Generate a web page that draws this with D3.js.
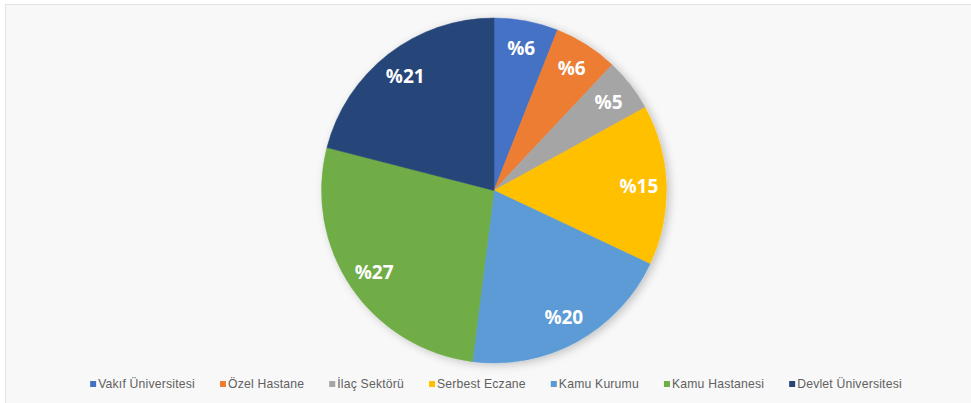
<!DOCTYPE html>
<html>
<head>
<meta charset="utf-8">
<script src="https://cdn.jsdelivr.net/npm/d3@7"></script>
<style>
  html, body { margin: 0; padding: 0; background: #ffffff; }
  svg { display: block; }
</style>
</head>
<body>
<svg id="chart" width="971" height="403"></svg>
<script>
// Share of respondents by workplace
const categories = ["Vakıf Üniversitesi", "Özel Hastane", "İlaç Sektörü", "Serbest Eczane", "Kamu Kurumu", "Kamu Hastanesi", "Devlet Üniversitesi"];
const values = [6, 6, 5, 15, 20, 27, 21];
const colors = ["#4472c4", "#ed7d31", "#a5a5a5", "#ffc000", "#5b9bd5", "#70ad47", "#264478"];

const W = 971, H = 403;
const cx = 494, cy = 190.5, R = 172.5;

const svg = d3.select("#chart");

// panel background with a thin frame
svg.append("rect")
  .attr("x", 5.5).attr("y", 4.5)
  .attr("width", W + 10).attr("height", H + 10)
  .attr("fill", "#f8f8f8")
  .attr("stroke", "#e2e2e2")
  .attr("stroke-width", 1);

const defs = svg.append("defs");
const shadow = defs.append("filter").attr("id", "pieShadow")
  .attr("x", "-20%").attr("y", "-20%").attr("width", "140%").attr("height", "140%");
shadow.append("feDropShadow")
  .attr("dx", 3).attr("dy", 2).attr("stdDeviation", 4)
  .attr("flood-color", "#000").attr("flood-opacity", 0.22);

const data = categories.map((c, i) => ({ name: c, value: values[i], color: colors[i] }));

const pie = d3.pie().value(d => d.value).sort(null);
const arcs = pie(data);
const arc = d3.arc().innerRadius(0).outerRadius(R);
const labelArc = d3.arc().innerRadius(R * 0.84).outerRadius(R * 0.84);

const g = svg.append("g").attr("transform", `translate(${cx},${cy})`);

g.append("g").attr("filter", "url(#pieShadow)")
  .selectAll("path")
  .data(arcs)
  .join("path")
  .attr("d", arc)
  .attr("fill", d => d.data.color)
  .attr("stroke", d => d.data.color)
  .attr("stroke-width", 0.5);

g.selectAll("text.lbl")
  .data(arcs)
  .join("text")
  .attr("class", "lbl")
  .attr("transform", d => `translate(${labelArc.centroid(d)})`)
  .attr("text-anchor", "middle")
  .attr("dominant-baseline", "central")
  .attr("fill", "#ffffff")
  .attr("font-family", "'Open Sans', 'Noto Sans', sans-serif")
  .attr("font-weight", 700)
  .attr("font-size", 19)
  .text(d => "%" + d.data.value);

// legend, centred below the pie
const legend = svg.append("g");
const items = legend.selectAll("g.item")
  .data(data)
  .join("g")
  .attr("class", "item");

items.append("rect")
  .attr("width", 6).attr("height", 6)
  .attr("y", -3)
  .attr("fill", d => d.color);

items.append("text")
  .attr("x", 8)
  .attr("y", 0.5)
  .attr("dominant-baseline", "middle")
  .attr("font-family", "'Liberation Sans', 'Open Sans', sans-serif")
  .attr("font-size", 12.2)
  .attr("letter-spacing", 0.2)
  .attr("fill", "#606060")
  .text(d => d.name);

let offset = 0;
const gap = 25;
const positions = [];
items.each(function () {
  const w = 8 + this.querySelector("text").getComputedTextLength();
  positions.push(offset);
  offset += w + gap;
});
const total = offset - gap;
const startX = 496 - total / 2;
items.attr("transform", (d, i) => `translate(${startX + positions[i]},384)`);
</script>
</body>
</html>
